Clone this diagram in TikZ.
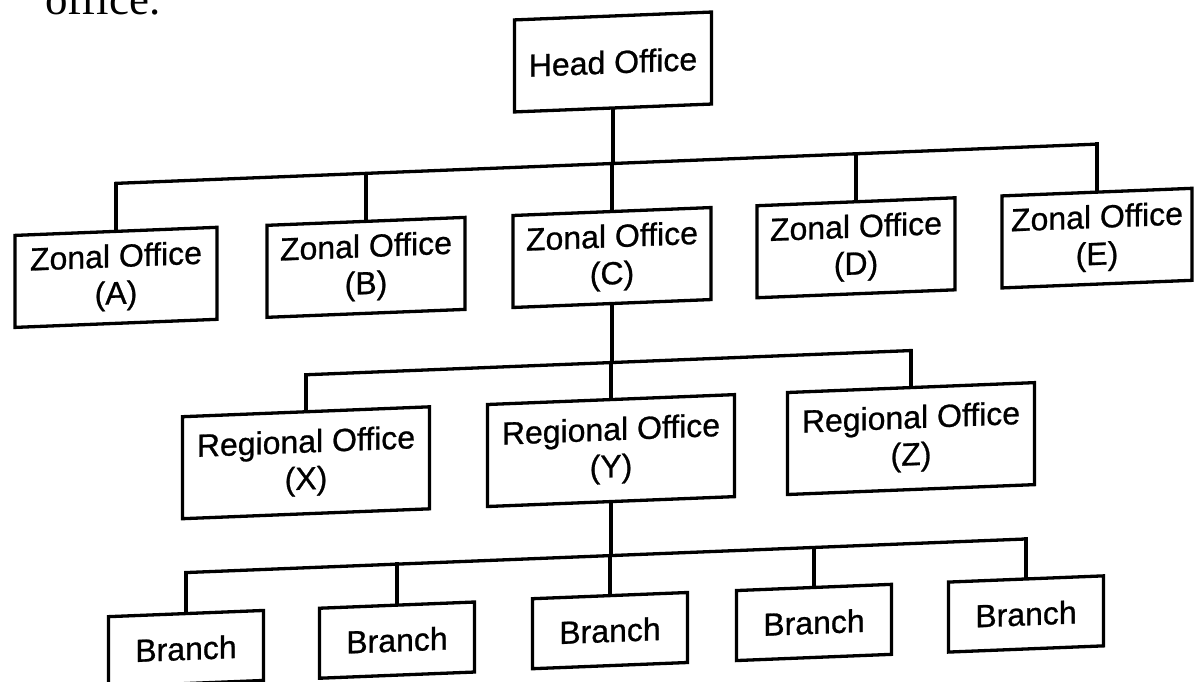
\documentclass[tikz,border=0pt]{standalone}
\usepackage{fontspec}
\setmainfont{Liberation Sans}
\newfontfamily\boxfont[FakeBold=0.8]{Liberation Sans}
\newfontfamily\bookfont{Liberation Serif}
\begin{document}
\begin{tikzpicture}[x=1pt,y=-1pt,
  office/.style={draw, line width=3.3pt, align=center, inner sep=0pt,
    font=\boxfont\fontsize{32}{37}\selectfont, transform shape,
    minimum width=198pt, minimum height=92pt},
  regional/.style={office, minimum width=247pt, minimum height=102pt},
  branchbox/.style={office, minimum width=155pt, minimum height=70pt},
  link/.style={line width=3.3pt, line cap=rect}]
\useasboundingbox (0,0) rectangle (1201,682);
\fill[white] (0,0) rectangle (1201,682);

% tail of the sentence above the chart
\node[anchor=base west, inner sep=0pt, font=\bookfont\fontsize{45}{50}\selectfont]
  (caption) at (45,15) {office.};

\begin{scope}[yslant=0.04]
  % head office
  \node[office, minimum width=197pt] (ho) at (613,86.5) {Head Office};

  % zonal offices
  \node[office, minimum width=202pt] (za) at (116,282) {Zonal Office\\(A)};
  \node[office] (zb) at (366,282) {Zonal Office\\(B)};
  \node[office] (zc) at (612,282) {Zonal Office\\(C)};
  \node[office] (zd) at (856,282) {Zonal Office\\(D)};
  \node[office, minimum width=190pt] (ze) at (1097,282) {Zonal Office\\(E)};

  % regional offices under zone C
  \node[regional] (rx) at (306,475) {Regional Office\\(X)};
  \node[regional] (ry) at (611,475) {Regional Office\\(Y)};
  \node[regional] (rz) at (911,475) {Regional Office\\(Z)};

  % branches under region Y
  \node[branchbox] (b1) at (186,656) {Branch};
  \node[branchbox] (b2) at (397,656) {Branch};
  \node[branchbox] (b3) at (610,655) {Branch};
  \node[branchbox] (b4) at (814,655) {Branch};
  \node[branchbox] (b5) at (1026,655) {Branch};

  % junction points of the bus lines
  \coordinate (hj) at (613,188);
  \coordinate (ja) at (116,188);
  \coordinate (jb) at (366,188);
  \coordinate (jc) at (612,188);
  \coordinate (jd) at (856,188);
  \coordinate (je) at (1097,188);

  \coordinate (cj) at (612,387);
  \coordinate (jx) at (306,387);
  \coordinate (jy) at (611,387);
  \coordinate (jz) at (911,387);

  \coordinate (yj) at (611,580);
  \coordinate (j1) at (186,580);
  \coordinate (j2) at (397,580);
  \coordinate (j3) at (610,580);
  \coordinate (j4) at (814,580);
  \coordinate (j5) at (1026,580);

  % head office to zones
  \draw[link] (ho.south) -- (hj);
  \draw[link] (ja) -- (je);
  \draw[link] (ja) -- (za.north);
  \draw[link] (jb) -- (zb.north);
  \draw[link] (jc) -- (zc.north);
  \draw[link] (jd) -- (zd.north);
  \draw[link] (je) -- (ze.north);

  % zone C to regions
  \draw[link] (zc.south) -- (cj);
  \draw[link] (jx) -- (jz);
  \draw[link] (jx) -- (rx.north);
  \draw[link] (jy) -- (ry.north);
  \draw[link] (jz) -- (rz.north);

  % region Y to branches
  \draw[link] (ry.south) -- (yj);
  \draw[link] (j1) -- (j5);
  \draw[link] (j1) -- (b1.north);
  \draw[link] (j2) -- (b2.north);
  \draw[link] (j3) -- (b3.north);
  \draw[link] (j4) -- (b4.north);
  \draw[link] (j5) -- (b5.north);
\end{scope}
\end{tikzpicture}
\end{document}
